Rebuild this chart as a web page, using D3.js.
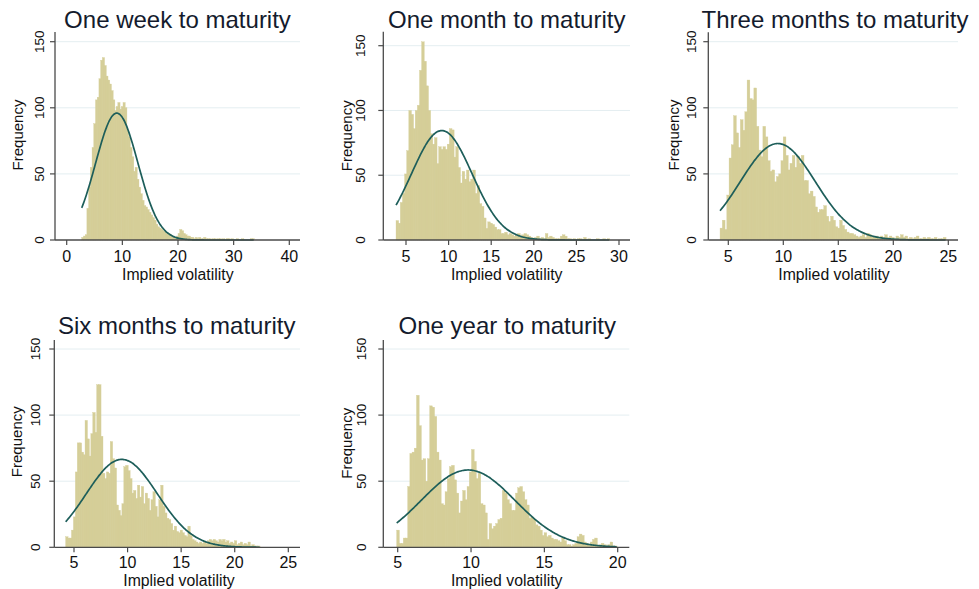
<!DOCTYPE html>
<html>
<head>
<meta charset="utf-8">
<script src="https://cdn.jsdelivr.net/npm/d3@7"></script>
<style>
  html, body { margin: 0; padding: 0; background: #ffffff; }
  svg { display: block; }
  text { font-family: "Liberation Sans", Arial, Helvetica, sans-serif; }
</style>
</head>
<body>
<svg id="chart" width="979" height="589"></svg>
<script>
// Histograms of implied volatility by time to maturity (100 bins each),
// each with a fitted normal density scaled to frequency.

const panelTitles = [
  "One week to maturity",
  "One month to maturity",
  "Three months to maturity",
  "Six months to maturity",
  "One year to maturity"
];

// first bin edge and bin width per panel
const binStart = [2.7, 3.83, 4.25, 4.22, 4.93];
const binWidth = [0.309, 0.2503, 0.205, 0.181, 0.150];

const countsWeek = [
  2, 3, 4, 24, 40, 55, 70, 88, 106, 108,
  122, 136, 138, 132, 124, 121, 118, 113, 106, 98,
  101, 104, 99, 101, 104, 100, 83, 78, 70, 63,
  52, 55, 46, 40, 35, 30, 26, 25, 23, 21,
  19, 17, 15, 12, 10, 9, 8, 7, 6, 5,
  5, 4, 3, 2, 2, 3, 5, 8, 7, 5,
  4, 3, 3, 2, 2, 1, 2, 1, 2, 1,
  1, 2, 1, 1, 1, 0, 1, 1, 0, 1,
  1, 0, 1, 0, 1, 1, 0, 1, 0, 0,
  1, 0, 0, 1, 0, 0, 0, 0, 1, 1
];

const countsMonth = [
  15, 13, 29, 36, 51, 69, 100, 97, 86, 100,
  104, 131, 153, 138, 119, 100, 82, 74, 79, 59,
  72, 70, 72, 70, 74, 86, 85, 64, 72, 56,
  44, 53, 47, 54, 45, 47, 54, 36, 42, 28,
  26, 17, 9, 14, 13, 12, 10, 8, 8, 5,
  5, 6, 4, 5, 4, 3, 4, 5, 3, 4,
  5, 4, 3, 2, 1, 2, 3, 1, 2, 1,
  5, 2, 3, 2, 1, 1, 1, 3, 4, 3,
  1, 1, 0, 1, 0, 1, 1, 0, 2, 0,
  1, 0, 0, 0, 1, 0, 0, 1, 0, 1
];

const countsThree = [
  9, 15, 8, 34, 62, 72, 94, 81, 70, 91,
  83, 97, 121, 107, 106, 115, 86, 68, 63, 86,
  78, 60, 52, 53, 44, 48, 50, 60, 78, 64,
  53, 58, 64, 55, 63, 58, 64, 45, 45, 35,
  37, 33, 25, 21, 23, 23, 26, 18, 14, 18,
  15, 10, 9, 15, 11, 8, 6, 5, 5, 4,
  3, 2, 3, 4, 2, 5, 4, 3, 2, 3,
  2, 3, 2, 4, 2, 3, 2, 1, 3, 2,
  4, 2, 3, 1, 2, 1, 2, 3, 1, 1,
  2, 1, 2, 1, 1, 2, 0, 1, 1, 2
];

const countsSix = [
  8, 7, 7, 13, 23, 57, 79, 79, 72, 70,
  96, 82, 69, 86, 102, 87, 123, 123, 84, 56,
  52, 57, 56, 80, 67, 60, 32, 28, 24, 33,
  61, 62, 58, 52, 41, 43, 37, 47, 38, 46,
  33, 41, 37, 28, 36, 42, 31, 23, 36, 47,
  31, 26, 22, 21, 18, 13, 16, 12, 11, 13,
  11, 9, 8, 16, 9, 6, 5, 4, 3, 4,
  3, 4, 3, 5, 6, 5, 6, 5, 4, 6,
  5, 6, 4, 5, 3, 4, 3, 5, 2, 3,
  4, 2, 3, 2, 4, 1, 2, 1, 1, 1
];

const countsYear = [
  13, 3, 3, 7, 7, 46, 71, 72, 75, 115,
  92, 66, 67, 50, 67, 107, 106, 99, 72, 66,
  33, 32, 42, 52, 61, 62, 51, 41, 26, 35,
  43, 36, 46, 57, 74, 65, 52, 56, 33, 32,
  26, 6, 18, 14, 16, 18, 21, 22, 43, 41,
  36, 33, 28, 28, 41, 45, 46, 42, 36, 32,
  22, 23, 21, 17, 16, 13, 9, 11, 8, 9,
  7, 6, 6, 5, 4, 7, 5, 2, 2, 1,
  2, 3, 8, 10, 9, 4, 3, 2, 4, 6,
  7, 1, 2, 3, 2, 1, 2, 4, 1, 1
];

const panelCounts = [countsWeek, countsMonth, countsThree, countsSix, countsYear];

// fitted normal overlay: mean, standard deviation and peak frequency
const normMean = [9.0, 9.2, 9.5, 9.46, 9.8];
const normSd = [3.8, 3.55, 3.4, 3.33, 3.2];
const normPeak = [96, 84.5, 73, 66.5, 58.5];

const xTickValues = [
  [0, 10, 20, 30, 40],
  [5, 10, 15, 20, 25, 30],
  [5, 10, 15, 20, 25],
  [5, 10, 15, 20, 25],
  [5, 10, 15, 20]
];
const yTickValues = [0, 50, 100, 150];

const xAxisTitle = "Implied volatility";
const yAxisTitle = "Frequency";

// panel geometry in page pixels
const frames = [
  {left: 55,    right: 300,   base: 240,   top150: 41.7, spineTop: 32,
   xa: [0, 66.7],  xb: [40, 289.3], titleX: 177.5, titleY: 27.5,
   yLabX: 43.5,  freqX: 22.5,  freqY: 135,   axTitleX: 177.8,
   tickLabDy: 21.5, axTitleDy: 40},
  {left: 383.3, right: 630,   base: 240,   top150: 45.7, spineTop: 31.7,
   xa: [5, 406],   xb: [30, 619],   titleX: 506.7, titleY: 27.5,
   yLabX: 365,   freqX: 352.4, freqY: 135.8, axTitleX: 506.7,
   tickLabDy: 21.5, axTitleDy: 40},
  {left: 708.3, right: 958,   base: 240,   top150: 41.7, spineTop: 32.3,
   xa: [5, 728.3], xb: [25, 948.3], titleX: 835,   titleY: 27.5,
   yLabX: 695.5, freqX: 679,   freqY: 135,   axTitleX: 834,
   tickLabDy: 21.5, axTitleDy: 40},
  {left: 54.3,  right: 300,   base: 547.3, top150: 349,  spineTop: 340,
   xa: [5, 74],    xb: [25, 288.3], titleX: 176.7, titleY: 334,
   yLabX: 40,    freqX: 22.4,  freqY: 441.7, axTitleX: 179,
   tickLabDy: 20.4, axTitleDy: 38.2},
  {left: 383.3, right: 629.3, base: 547.3, top150: 349,  spineTop: 340,
   xa: [5, 397.7], xb: [20, 617.7], titleX: 507.3, titleY: 334,
   yLabX: 365.5, freqX: 352.4, freqY: 443.3, axTitleX: 506.7,
   tickLabDy: 20.4, axTitleDy: 38.2}
];

const barColor = "#d5ce98";
const curveColor = "#1d5e5a";
const axisColor = "#4a4a4a";
const gridColor = "#e4eef1";
const textColor = "#111111";

const svg = d3.select("#chart");
svg.append("rect").attr("width", 979).attr("height", 589).attr("fill", "#ffffff");

panelTitles.forEach((title, p) => {
  const f = frames[p];
  const counts = panelCounts[p];
  const x0 = binStart[p];
  const w = binWidth[p];

  const x = d3.scaleLinear().domain([f.xa[0], f.xb[0]]).range([f.xa[1], f.xb[1]]);
  const y = d3.scaleLinear().domain([0, 150]).range([f.base, f.top150]);

  const g = svg.append("g");

  // horizontal grid lines
  g.selectAll("line.grid")
    .data(yTickValues.filter(v => v > 0))
    .join("line")
    .attr("x1", f.left).attr("x2", f.right)
    .attr("y1", d => y(d)).attr("y2", d => y(d))
    .attr("stroke", gridColor).attr("stroke-width", 1);

  // histogram bars
  const bins = counts.map((c, i) => ({lo: x0 + i * w, hi: x0 + (i + 1) * w, c}));
  g.selectAll("rect.bar")
    .data(bins.filter(b => b.c > 0))
    .join("rect")
    .attr("x", d => x(d.lo))
    .attr("width", d => x(d.hi) - x(d.lo) + 0.5)
    .attr("y", d => y(d.c))
    .attr("height", d => f.base - y(d.c))
    .attr("fill", barColor)
    .attr("stroke", barColor)
    .attr("stroke-width", 0.35);

  // normal density overlay across the data range
  const xMin = x0, xMax = x0 + counts.length * w;
  const pts = d3.range(0, 201).map(k => {
    const v = xMin + (xMax - xMin) * k / 200;
    const z = (v - normMean[p]) / normSd[p];
    return [v, normPeak[p] * Math.exp(-0.5 * z * z)];
  });
  g.append("path")
    .datum(pts)
    .attr("d", d3.line().x(d => x(d[0])).y(d => y(d[1])).curve(d3.curveBasis))
    .attr("fill", "none")
    .attr("stroke", curveColor)
    .attr("stroke-width", 1.7);

  // x axis line and ticks
  g.append("line")
    .attr("x1", f.left).attr("x2", f.right)
    .attr("y1", f.base).attr("y2", f.base)
    .attr("stroke", axisColor).attr("stroke-width", 1.3);
  g.selectAll("line.xt")
    .data(xTickValues[p]).join("line")
    .attr("x1", d => x(d)).attr("x2", d => x(d))
    .attr("y1", f.base).attr("y2", f.base + 5)
    .attr("stroke", axisColor).attr("stroke-width", 1.2);
  g.selectAll("text.xl")
    .data(xTickValues[p]).join("text")
    .attr("x", d => x(d)).attr("y", f.base + f.tickLabDy)
    .attr("text-anchor", "middle")
    .attr("font-size", 16).attr("fill", textColor)
    .text(d => d);

  // y axis line and ticks
  g.append("line")
    .attr("x1", f.left).attr("x2", f.left)
    .attr("y1", f.base).attr("y2", f.spineTop)
    .attr("stroke", axisColor).attr("stroke-width", 1.3);
  g.selectAll("line.yt")
    .data(yTickValues).join("line")
    .attr("x1", f.left - 5).attr("x2", f.left)
    .attr("y1", d => y(d)).attr("y2", d => y(d))
    .attr("stroke", axisColor).attr("stroke-width", 1.2);
  g.selectAll("text.yl")
    .data(yTickValues).join("text")
    .attr("transform", d => `translate(${f.yLabX},${y(d)}) rotate(-90)`)
    .attr("text-anchor", "middle")
    .attr("font-size", 13.5).attr("fill", textColor)
    .text(d => d);

  // titles
  g.append("text")
    .attr("x", f.titleX).attr("y", f.titleY)
    .attr("text-anchor", "middle")
    .attr("font-size", 24).attr("fill", "#141b2d")
    .text(title);
  g.append("text")
    .attr("x", f.axTitleX).attr("y", f.base + f.axTitleDy)
    .attr("text-anchor", "middle")
    .attr("font-size", 15.8).attr("fill", textColor)
    .text(xAxisTitle);
  g.append("text")
    .attr("transform", `translate(${f.freqX},${f.freqY}) rotate(-90)`)
    .attr("text-anchor", "middle")
    .attr("font-size", 15).attr("fill", textColor)
    .text(yAxisTitle);
});
</script>
</body>
</html>
